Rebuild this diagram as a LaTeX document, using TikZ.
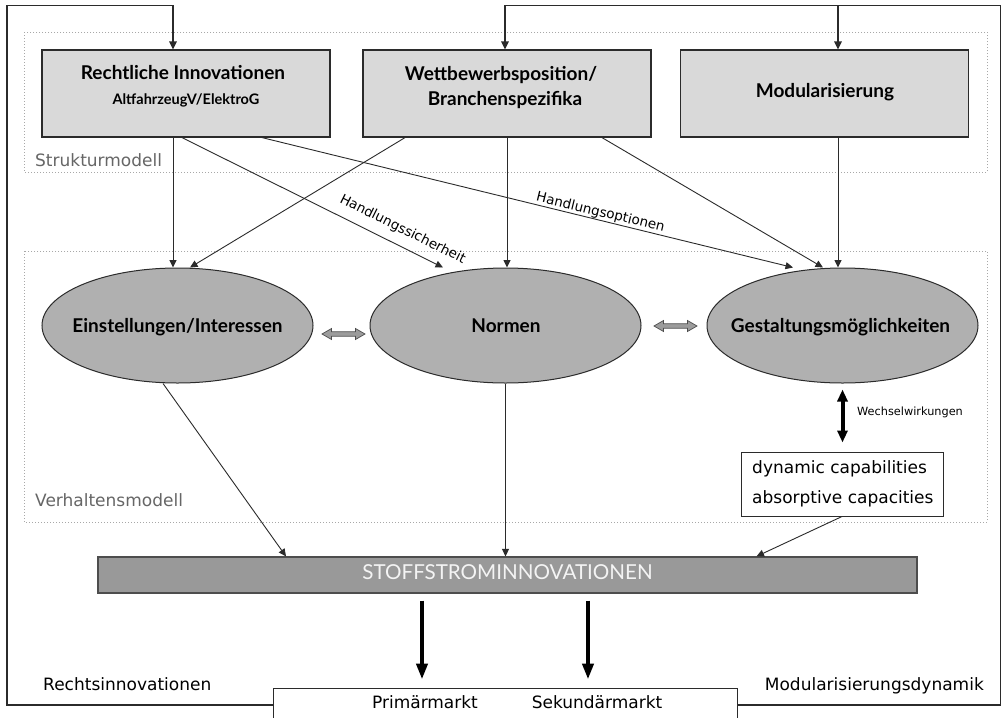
\documentclass[tikz,border=0pt]{standalone}
\usepackage{fontspec}
\setmainfont{Lato}
\newfontfamily\lucfont{DejaVu Sans}
\usetikzlibrary{shapes.geometric,arrows.meta,calc}
\definecolor{boxfill}{HTML}{D9D9D9}
\definecolor{ellfill}{HTML}{B0B0B0}
\definecolor{barfill}{HTML}{999999}
\definecolor{barline}{HTML}{4D4D4D}
\definecolor{linec}{HTML}{2B2B2B}
\definecolor{dotc}{HTML}{A8A8A8}
\definecolor{labc}{HTML}{666666}
\definecolor{dblfill}{HTML}{9C9C9C}
\definecolor{bartextc}{HTML}{F4F4F4}
\tikzset{
 topbox/.style={draw=linec, line width=1.2pt, fill=boxfill, minimum width=288pt, minimum height=87pt, inner sep=0pt},
 ellnode/.style={ellipse, draw=linec, line width=1pt, fill=ellfill, minimum width=271pt, minimum height=115pt, inner sep=0pt},
 titletext/.style={font=\bfseries\fontsize{19}{22}\selectfont, inner sep=0pt, anchor=base},
 subtext/.style={font=\bfseries\fontsize{14.5}{17}\selectfont, inner sep=0pt, anchor=base},
 luctext/.style={font=\lucfont\fontsize{17}{20}\selectfont, inner sep=0pt, anchor=base},
 modlabel/.style={font=\lucfont\fontsize{17}{20}\selectfont, text=labc, inner sep=0pt, anchor=base west},
 slopelabel/.style={font=\lucfont\fontsize{13.5}{16}\selectfont, sloped, inner sep=0pt},
 dotbox/.style={draw=dotc, dotted, line width=1pt},
 conn/.style={draw=linec, line width=0.9pt, -{Triangle[length=7.5pt,width=7pt]}},
 loopline/.style={draw=linec, line width=1.4pt},
 looparr/.style={loopline, -{Triangle[length=8pt,width=7.5pt]}},
 bigarr/.style={draw=black, line width=4.5pt, -{Triangle[length=16pt,width=11pt]}},
 wwarr/.style={draw=black, line width=4pt, {Triangle[length=12pt,width=10pt]}-{Triangle[length=12pt,width=10pt]}},
 plainbox/.style={draw=linec, line width=1pt, fill=white, inner sep=0pt},
 pics/dblarr/.style={code={
   \draw[draw=barline, line width=0.7pt, fill=dblfill]
     (-21.5,0) -- (-12,-5.5) -- (-12,-2.2) -- (12,-2.2) -- (12,-5.5) -- (21.5,0)
     -- (12,5.5) -- (12,2.2) -- (-12,2.2) -- (-12,5.5) -- cycle;}}
}
\begin{document}
\begin{tikzpicture}[x=1pt,y=-1pt]
\useasboundingbox (0,0) rectangle (1002,718);
\clip (0,0) rectangle (1002,718);
\fill[white] (0,0) rectangle (1002,718);

% model frames
\draw[dotbox] (24,32) rectangle (987,172);
\draw[dotbox] (24,251) rectangle (987,522);
\node[modlabel] (sml) at (35,166.5) {Strukturmodell};
\node[modlabel] (vml) at (35,506.5) {Verhaltensmodell};

% top boxes
\node[topbox] (rl) at (186,93.5) {};
\node[titletext] (rlt) at (183,79) {Rechtliche Innovationen};
\node[subtext] (rls) at (186,104) {AltfahrzeugV/ElektroG};
\node[topbox] (wb) at (507,93.5) {};
\node[titletext] (wbt1) at (501,80) {Wettbewerbsposition/};
\node[titletext] (wbt2) at (505,105) {Branchenspezifika};
\node[topbox] (md) at (824.5,93.5) {};
\node[titletext] (mdt) at (825,97) {Modularisierung};

% ellipses
\node[ellnode] (ein) at (177.5,325.5) {};
\node[titletext] (eint) at (177.5,332) {Einstellungen/Interessen};
\node[ellnode] (nor) at (505.5,325.5) {};
\node[titletext] (nort) at (506,332) {Normen};
\node[ellnode] (gs) at (842.5,325.5) {};
\node[titletext] (gst) at (840.5,332) {Gestaltungsmöglichkeiten};
\pic at (343.5,334) {dblarr};
\pic at (675.5,326) {dblarr};

% capabilities
\node[plainbox, minimum width=202pt, minimum height=64pt] (dyn) at (842,484) {};
\node[luctext, anchor=base west] (dyn1) at (752,473) {dynamic capabilities};
\node[luctext, anchor=base west] (dyn2) at (752,503) {absorptive capacities};
\draw[wwarr, shorten <=6pt, shorten >=9pt] (gs.south) -- (gs.south |- dyn.north);
\node[font=\lucfont\fontsize{11.3}{13}\selectfont, inner sep=0pt, anchor=base west] (ww) at (857,415) {Wechselwirkungen};

% bar
\node[draw=barline, line width=1.2pt, fill=barfill, minimum width=819pt, minimum height=36pt, inner sep=0pt] (bar) at (507.5,575) {};
\node[font=\fontsize{20.6}{23}\selectfont, text=bartextc, inner sep=0pt, anchor=base] (bart) at (507.5,579.5) {STOFFSTROMINNOVATIONEN};

% market
\node[plainbox, minimum width=464pt, minimum height=34pt] (mk) at (505,705) {};
\node[luctext] (pm) at (425,708) {Primärmarkt};
\node[luctext] (sm) at (597,708) {Sekundärmarkt};
\node[luctext, anchor=base west] (ri) at (43,690) {Rechtsinnovationen};
\node[luctext, anchor=base east] (mdy) at (984,690) {Modularisierungsdynamik};

% feedback loops
\coordinate (lc) at (7,5.5);
\coordinate (rc) at (1000.5,5.5);
\coordinate (rlin) at ([xshift=-13pt]rl.north);
\coordinate (wbin) at ([xshift=-2pt]wb.north);
\coordinate (mdin) at ([xshift=13.5pt]md.north);
\draw[looparr] (mk.west) -| (lc) -| (rlin);
\draw[looparr] (mk.east) -| (rc) -| (wbin);
\draw[looparr] (mdin |- rc) -- (mdin);

% structure -> behaviour
\coordinate (rlA) at ([xshift=-13pt]rl.south);
\coordinate (rlB) at ([xshift=-4pt]rl.south);
\coordinate (rlC) at ([xshift=76pt]rl.south);
\coordinate (wbA) at ([xshift=-102pt]wb.south);
\coordinate (wbC) at ([xshift=95pt]wb.south);
\coordinate (mdA) at ([xshift=13.5pt]md.south);
\draw[conn] (rlA) -- (rlA |- ein.north);
\draw[conn] (wbA) -- ([xshift=12.5pt]ein.north);
\draw[conn] (rlB) -- node[slopelabel, pos=0.818, above=9pt] (hs) {Handlungssicherheit} ([xshift=-62.5pt]nor.north);
\draw[conn] (wb.south) -- (wb.south |- nor.north);
\draw[conn] (rlC) -- node[slopelabel, pos=0.634, above=0.5pt] (ho) {Handlungsoptionen} ([xshift=-49.5pt]gs.north);
\draw[conn] (wbC) -- ([xshift=-19.5pt]gs.north);
\draw[conn] (mdA) -- (mdA |- gs.north);

% behaviour -> innovations
\draw[conn] ([xshift=-14.5pt]ein.south) -- ([xshift=-221.5pt]bar.north);
\draw[conn] (nor.south) -- (nor.south |- bar.north);
\draw[conn] (dyn.south) -- ([xshift=249pt]bar.north);

% innovations -> markets
\coordinate (pmA) at ([xshift=-83pt]mk.north);
\coordinate (smA) at ([xshift=83pt]mk.north);
\draw[bigarr, shorten <=7pt, shorten >=8pt] (pmA |- bar.south) -- (pmA);
\draw[bigarr, shorten <=7pt, shorten >=8pt] (smA |- bar.south) -- (smA);
\end{tikzpicture}
\end{document}
